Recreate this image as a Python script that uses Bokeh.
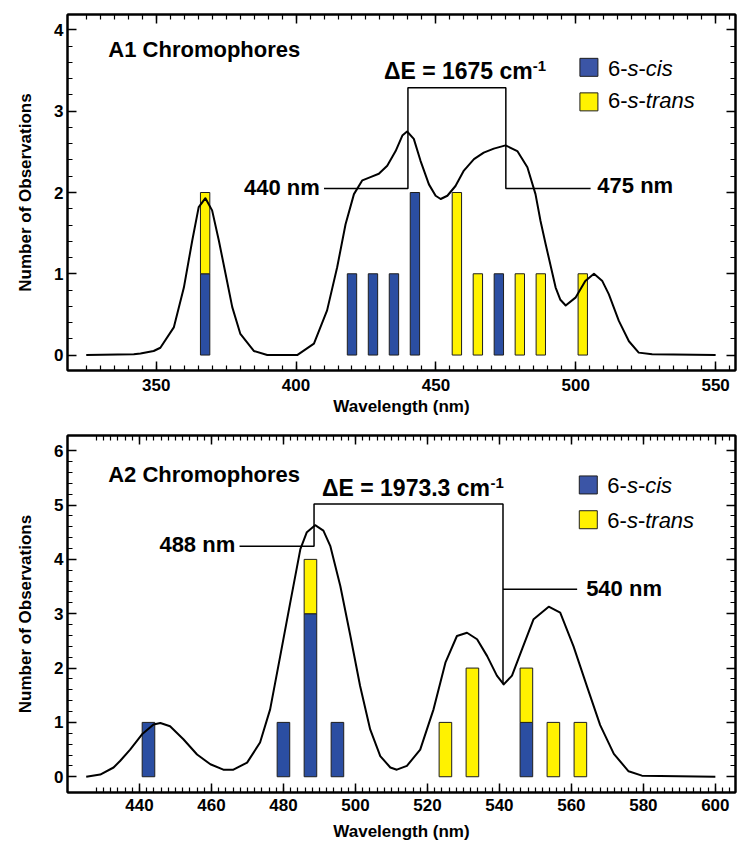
import numpy as np
from bokeh.plotting import figure
from bokeh.models import Range1d, FixedTicker, LinearAxis, CustomLabelingPolicy
from bokeh.layouts import column
from bokeh.embed import file_html
from bokeh.resources import INLINE
from bokeh.core.properties import value

FONT = "Liberation Sans"
CIS_COLOR = "#2b4ea2"
CIS_LEG = "#3b55a6"
TRANS_COLOR = "#fff200"
EDGE = "#1e1e1e"

# ---------------- A1 data ----------------
a1_bins = [367.5, 420, 427.5, 435, 442.5, 457.5, 465, 472.5, 480, 487.5, 502.5]
a1_cis = [1, 1, 1, 1, 2, 0, 0, 1, 0, 0, 0]
a1_trans = [1, 0, 0, 0, 0, 2, 1, 0, 1, 1, 1]
a1_curve_x = [325, 342, 344.4, 349.1, 351.5, 356.3, 359.9, 362.9, 365.2, 367.6, 370, 372.4,
              374.8, 377.2, 380.1, 384.9, 389.7, 400.4, 406.4, 411.1, 414.7, 417.7, 420.7,
              423.7, 426.6, 429.6, 432.6, 435.6, 438, 439.7, 442.1, 444.5, 447.5, 449.9,
              451.7, 454.1, 457, 460, 463.6, 467.1, 470.7, 474.9, 479.1, 482.7, 485.6,
              487.4, 489.2, 492.8, 494.5, 496.4, 500, 503.4, 506.5, 509.5, 511.8, 515.4,
              519, 522.5, 527.3, 550]
a1_curve_y = [0, 0.01, 0.02, 0.05, 0.09, 0.34, 0.83, 1.41, 1.82, 1.93, 1.78, 1.41,
              1.0, 0.59, 0.26, 0.05, 0.0, 0.0, 0.14, 0.55, 1.08, 1.61, 1.98,
              2.15, 2.19, 2.23, 2.33, 2.51, 2.70, 2.75, 2.66, 2.39, 2.10, 1.96,
              1.92, 1.96, 2.08, 2.27, 2.41, 2.49, 2.54, 2.58, 2.51, 2.31, 1.98,
              1.65, 1.37, 0.83, 0.68, 0.61, 0.71, 0.91, 1.0, 0.91, 0.75, 0.42,
              0.17, 0.03, 0.01, 0]
a1_peaks = [440, 475]
a1_x_major = [350, 400, 450, 500, 550]
a1_y_major = [0, 1, 2, 3, 4]

# ---------------- A2 data ----------------
a2_bins = [442.5, 480, 487.5, 495, 525, 532.5, 547.5, 555, 562.5]
a2_cis = [1, 1, 3, 1, 0, 0, 1, 0, 0]
a2_trans = [0, 0, 1, 0, 1, 2, 1, 1, 1]
a2_curve_x = [425.2, 429.1, 432.8, 434.6, 437.4, 440.7, 443.9, 445.8, 448.5, 452.2, 456,
              459.7, 463.3, 466.1, 469.9, 473.5, 476.3, 479.1, 481.9, 484.7, 486.5, 488.8,
              491.1, 493, 495.8, 498.6, 501.3, 504.1, 506.9, 509.7, 511.5, 514.3, 518,
              521.7, 525, 528.2, 531, 533.8, 536.6, 539.3, 541.2, 543.5, 546.3, 549.5,
              553.7, 556.9, 560.6, 564.4, 568, 571.8, 575.9, 579.6, 600]
a2_curve_y = [0, 0.04, 0.17, 0.29, 0.5, 0.78, 0.96, 0.99, 0.93, 0.69, 0.41,
              0.23, 0.13, 0.13, 0.26, 0.63, 1.24, 2.22, 3.21, 4.19, 4.50, 4.63,
              4.53, 4.25, 3.51, 2.59, 1.67, 0.87, 0.38, 0.17, 0.13, 0.2, 0.5,
              1.24, 2.1, 2.59, 2.65, 2.53, 2.22, 1.86, 1.70, 1.86, 2.35, 2.9,
              3.13, 3.02, 2.4, 1.65, 0.95, 0.42, 0.1, 0.02, 0]
a2_peaks = [488.5, 541]
a2_x_major = [440, 460, 480, 500, 520, 540, 560, 580, 600]
a2_y_major = [0, 1, 2, 3, 4, 5, 6]

NO_LABELS = CustomLabelingPolicy(code="""
try { for (const i of Array.from(indices)) { indices.unset(i) } } catch (e) {}
return indices
""")


def style_axis(ax, show_labels=True):
    ax.axis_line_width = 2
    ax.axis_line_color = "black"
    ax.major_tick_in = 9
    ax.major_tick_out = 0
    ax.minor_tick_in = 5
    ax.minor_tick_out = 0
    ax.major_tick_line_width = 1.5
    ax.minor_tick_line_width = 1.2
    ax.major_tick_line_color = "black"
    ax.minor_tick_line_color = "black"
    if show_labels:
        ax.major_label_text_font = FONT
        ax.major_label_text_font_style = "bold"
        ax.major_label_text_font_size = "17px"
        ax.major_label_text_color = "black"
        ax.axis_label_text_font = FONT
        ax.axis_label_text_font_style = "bold"
        ax.axis_label_text_font_size = "17px"
        ax.axis_label_text_color = "black"
    else:
        ax.major_label_policy = NO_LABELS
        ax.major_label_text_font_size = "1px"
        ax.major_label_standoff = 0


def make_fig(xr, yr, xmajor, xminor, ymajor, yminor, frame_h, btop, bbottom,
             xstand, xlabstand):
    p = figure(frame_width=668, frame_height=frame_h,
               x_range=Range1d(*xr), y_range=Range1d(*yr),
               output_backend="svg", toolbar_location=None,
               min_border_left=67, min_border_right=7,
               min_border_top=btop, min_border_bottom=bbottom)
    p.xgrid.visible = False
    p.ygrid.visible = False
    p.outline_line_color = "black"
    p.outline_line_width = 2
    p.background_fill_color = "white"
    p.border_fill_color = "white"

    xa = p.xaxis[0]
    xa.ticker = FixedTicker(ticks=xmajor, minor_ticks=xminor)
    style_axis(xa)
    xa.axis_label = "Wavelength (nm)"
    xa.major_label_standoff = xstand
    xa.axis_label_standoff = xlabstand

    ya = p.yaxis[0]
    ya.ticker = FixedTicker(ticks=ymajor, minor_ticks=yminor)
    style_axis(ya)
    ya.axis_label = "Number of Observations"
    ya.major_label_standoff = 4
    ya.axis_label_standoff = 16

    top_ax = LinearAxis(ticker=FixedTicker(ticks=xmajor, minor_ticks=xminor))
    style_axis(top_ax, show_labels=False)
    p.add_layout(top_ax, "above")
    right_ax = LinearAxis(ticker=FixedTicker(ticks=ymajor, minor_ticks=yminor))
    style_axis(right_ax, show_labels=False)
    p.add_layout(right_ax, "right")
    return p


def draw_bars(p, bins, cis, trans, width):
    bins = np.array(bins, dtype=float)
    cis = np.array(cis, dtype=float)
    trans = np.array(trans, dtype=float)
    m = cis > 0
    p.vbar(x=bins[m], width=width, bottom=0, top=cis[m],
           fill_color=CIS_COLOR, line_color=EDGE, line_width=1)
    m2 = trans > 0
    p.vbar(x=bins[m2], width=width, bottom=cis[m2], top=(cis + trans)[m2],
           fill_color=TRANS_COLOR, line_color=EDGE, line_width=1)


def txt(p, x, y, s, size="22px", style="bold", align="left", xoff=0):
    # y is the vertical centre of the capitals
    p.text(x=[x], y=[y], text=[s], text_font=value(FONT), text_font_style=style,
           text_font_size=size, text_align=align, text_baseline="middle",
           text_color="black", x_offset=xoff)


def legend_entry(p, x, y_sq, y_txt, color, word):
    p.scatter([x], [y_sq], marker="square", size=18, fill_color=color,
              line_color=EDGE, line_width=1)
    pieces = [("6-", "normal", 0), ("s", "italic", 19.6), ("-", "normal", 30.6),
              (word, "italic", 37.9)]
    for t, st, off in pieces:
        txt(p, x, y_txt, t, size="22px", style=st, xoff=19 + off)


# ---------------- Top figure (A1) ----------------
p1 = make_fig((318.3, 557.1), (-0.19, 4.19), a1_x_major, list(range(325, 556, 5)),
              a1_y_major, [round(v * 0.2, 1) for v in range(0, 21)],
              frame_h=356, btop=14, bbottom=46, xstand=8, xlabstand=3)
draw_bars(p1, a1_bins, a1_cis, a1_trans, 3.35)
p1.line(a1_curve_x, a1_curve_y, line_color="black", line_width=2, line_join="round")
p1.line([410, a1_peaks[0], a1_peaks[0], a1_peaks[1], a1_peaks[1], 505.3],
        [2.05, 2.05, 3.29, 3.29, 2.05, 2.05], line_color="black", line_width=1.5)
txt(p1, 332.9, 3.755, "A1 Chromophores")
txt(p1, 408.5, 2.06, "440 nm", align="right")
txt(p1, 507.7, 2.08, "475 nm")
txt(p1, 431.4, 3.49, "ΔE = 1675 cm", size="23px")
txt(p1, 484.6, 3.56, "-1", size="15px")
legend_entry(p1, 504.7, 3.54, 3.53, CIS_LEG, "cis")
legend_entry(p1, 504.7, 3.115, 3.13, TRANS_COLOR, "trans")

# ---------------- Bottom figure (A2) ----------------
p2 = make_fig((420.0, 605.6), (-0.29, 6.28), a2_x_major, list(range(428, 605, 2)),
              a2_y_major, [round(v * 0.2, 1) for v in range(0, 31)],
              frame_h=357, btop=17, bbottom=50, xstand=6, xlabstand=8)
draw_bars(p2, a2_bins, a2_cis, a2_trans, 3.5)
p2.line(a2_curve_x, a2_curve_y, line_color="black", line_width=2, line_join="round")
p2.line([467.8, a2_peaks[0], a2_peaks[0], a2_peaks[1], a2_peaks[1]],
        [4.24, 4.24, 5.02, 5.02, 1.70], line_color="black", line_width=1.5)
p2.line([a2_peaks[1], 561.6], [3.45, 3.45], line_color="black", line_width=1.5)
txt(p2, 431.3, 5.57, "A2 Chromophores")
txt(p2, 466.6, 4.27, "488 nm", align="right")
txt(p2, 564.1, 3.46, "540 nm")
txt(p2, 490.7, 5.31, "ΔE = 1973.3 cm", size="23px")
txt(p2, 537.5, 5.41, "-1", size="15px")
legend_entry(p2, 564.7, 5.37, 5.36, CIS_LEG, "cis")
legend_entry(p2, 564.7, 4.73, 4.72, TRANS_COLOR, "trans")

layout = column(p1, p2, spacing=0)
open("out.html", "w").write(file_html(layout, INLINE))
